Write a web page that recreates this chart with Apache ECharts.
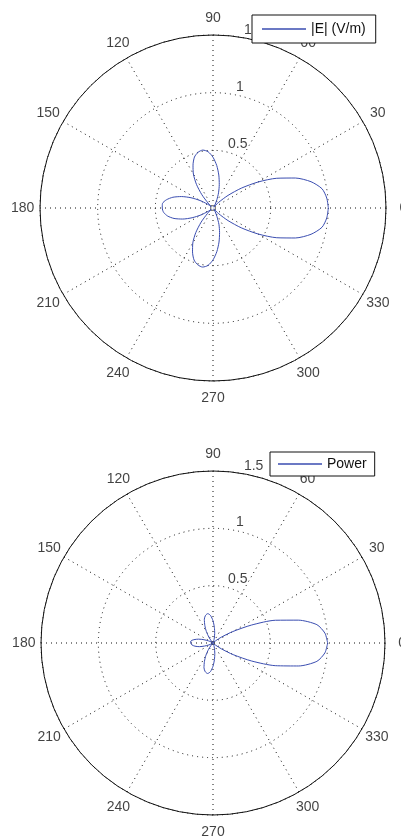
<!DOCTYPE html>
<html><head><meta charset="utf-8">
<script src="https://cdn.jsdelivr.net/npm/echarts@6/dist/echarts.min.js"></script>
<style>html,body{margin:0;padding:0;background:#fff}#c{width:401px;height:837px}</style>
</head><body><div id="c"></div>
<script>
// angle (degrees) of every sample
const angles = [0,5,10,15,20,25,30,35,40,45,50,55,60,65,70,75,80,85,90,95,100,105,110,115,120,125,130,135,140,145,150,155,160,165,170,175,180,185,190,195,200,205,210,215,220,225,230,235,240,245,250,255,260,265,270,275,280,285,290,295,300,305,310,315,320,325,330,335,340,345,350,355,360];
// |E| pattern (top plot)
const eField = [1.00,0.99,0.96,0.88,0.76,0.61,0.45,0.30,0.17,0.07,0.01,0.02,0.04,0.08,0.14,0.21,0.29,0.37,0.44,0.49,0.51,0.50,0.47,0.41,0.34,0.25,0.15,0.06,0.02,0.06,0.13,0.21,0.29,0.36,0.41,0.44,0.44,0.43,0.40,0.35,0.28,0.20,0.12,0.05,0.02,0.07,0.16,0.26,0.35,0.42,0.48,0.51,0.52,0.50,0.45,0.38,0.30,0.22,0.15,0.08,0.04,0.02,0.01,0.07,0.17,0.30,0.45,0.61,0.76,0.88,0.96,0.99,1.00];
// Power pattern (bottom plot)
const power = [1.00,0.98,0.92,0.77,0.58,0.37,0.20,0.09,0.03,0.005,0.0,0.0,0.002,0.006,0.02,0.044,0.084,0.137,0.194,0.24,0.26,0.25,0.221,0.168,0.116,0.063,0.023,0.004,0.0,0.004,0.017,0.044,0.084,0.13,0.168,0.194,0.194,0.185,0.16,0.123,0.078,0.04,0.014,0.003,0.0,0.005,0.026,0.068,0.123,0.176,0.23,0.26,0.27,0.25,0.203,0.144,0.09,0.048,0.023,0.006,0.002,0.0,0.0,0.005,0.029,0.09,0.203,0.372,0.578,0.774,0.92,0.98,1.00];
// angle tick positions and labels
const angleTicks = [0,30,60,90,120,150,180,210,240,270,300,330];
const angleTickLabels = ['0','30','60','90','120','150','180','210','240','270','300','330'];
// radial rings and their labels
const ringValues = [0.5,1,1.5];
const ringLabels = ['0.5','1','1.5'];
const seriesNames = ['|E| (V/m)','Power'];

const FONT = "'Liberation Sans', Arial, sans-serif";
const RMAX = 1.5;
const LABEL_R = RMAX * 1.1;
const RING_ANGLE = 82;
const centers = [[213,208],[213,643]];
const radii = [173,172];
const dotted = {color:'#111', width:1, type:[1,4]};
const blue = '#3a4db0';

const polar = [], angleAxis = [], radiusAxis = [], series = [];
for (let p = 0; p < 2; p++) {
  polar.push({center: centers[p], radius: radii[p]});
  angleAxis.push({
    polarIndex: p, type:'value', min:0, max:360, interval:30, startAngle:0, clockwise:false,
    axisLine:{show:true, lineStyle:{color:'#111', width:1}},
    axisTick:{show:false}, axisLabel:{show:false},
    splitLine:{show:true, lineStyle:dotted}
  });
  radiusAxis.push({
    polarIndex: p, type:'value', min:0, max:RMAX, interval:0.5,
    axisLine:{show:false}, axisTick:{show:false}, axisLabel:{show:false},
    splitLine:{show:true, lineStyle:dotted}
  });
  const vals = p === 0 ? eField : power;
  series.push({
    name: seriesNames[p], type:'line', coordinateSystem:'polar', polarIndex:p,
    symbol:'none', smooth:0.25, z:3, clip:false,
    lineStyle:{color:blue, width:1}, itemStyle:{color:blue},
    data: angles.map((a,i)=>[vals[i], a])
  });
  series.push({
    type:'scatter', coordinateSystem:'polar', polarIndex:p, symbolSize:1, silent:true, z:2, clip:false,
    itemStyle:{color:'rgba(0,0,0,0)'},
    data: angleTicks.map((a,i)=>({value:[LABEL_R, a], name:angleTickLabels[i]})),
    label:{show:true, position:'inside', formatter:'{b}', color:'#111', fontSize:14, fontFamily:FONT}
  });
  series.push({
    type:'scatter', coordinateSystem:'polar', polarIndex:p, symbolSize:0, silent:true, z:2, clip:false,
    data: ringValues.map((r,i)=>({value:[r, RING_ANGLE], name:ringLabels[i]})),
    label:{show:true, position:[0,0], align:'left', verticalAlign:'bottom', offset:[7,0],
      formatter:'{b}', color:'#111', fontSize:14, fontFamily:FONT}
  });
}

const legendBase = {
  orient:'horizontal', backgroundColor:'#fff', borderColor:'#111', borderWidth:1,
  icon:'rect', itemWidth:44, itemHeight:1.5, itemGap:6,
  itemStyle:{color:blue},
  textStyle:{color:'#111', fontSize:14, fontFamily:FONT}
};

const chart = echarts.init(document.getElementById('c'), null, {renderer:'canvas'});
chart.setOption({
  backgroundColor:'#fff',
  animation:false,
  polar, angleAxis, radiusAxis, series,
  legend:[
    Object.assign({}, legendBase, {left:252, top:15, padding:[7,10,7,10], data:[seriesNames[0]]}),
    Object.assign({}, legendBase, {left:270, top:452, padding:[5,8,5,8], data:[seriesNames[1]]})
  ]
});
</script></body></html>
